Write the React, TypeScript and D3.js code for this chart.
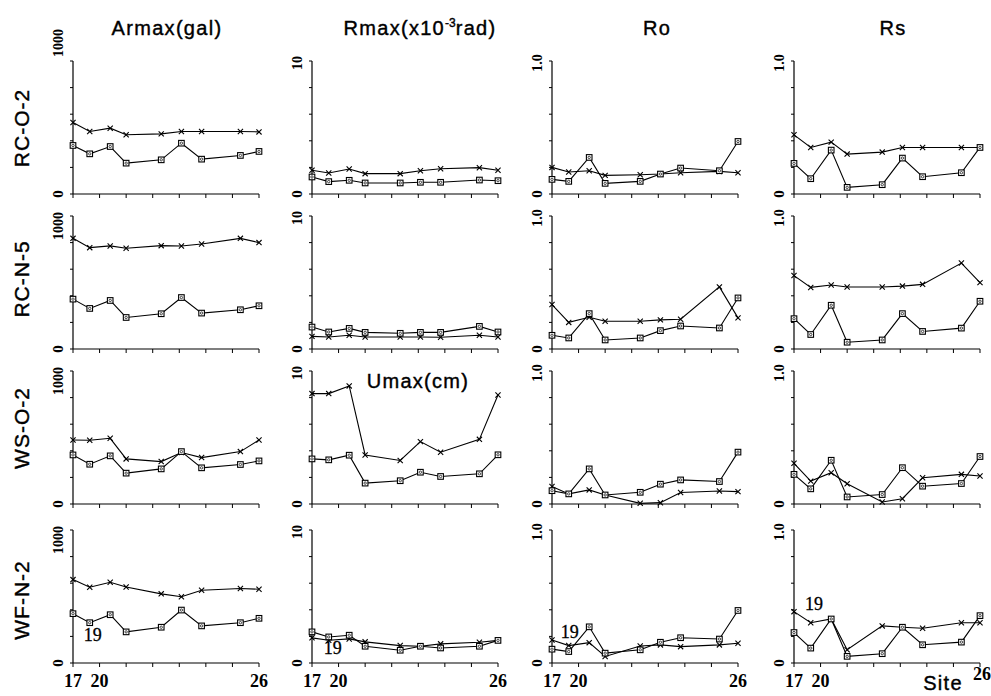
import React from 'react';
import * as d3 from 'd3';

const W = 991;
const H = 696;

// site positions along the x axis (in tick units, 17 at 0 and 26 at 7)
const sitePos = [0, 0.63, 1.4, 2, 3.32, 4.08, 4.84, 6.3, 7];
const siteTicks = [0, 1, 2, 3, 4, 5, 6, 7];
const siteLabelPos = [0, 1, 7];
const siteLabelText = ['17', '20', '26'];

const rowNames = ['RC-O-2', 'RC-N-5', 'WS-O-2', 'WF-N-2'];
const colNames = ['Armax(gal)', 'Rmax', 'Ro', 'Rs'];
const yMax = [1000, 10, 1, 1];
const yTopLabel = ['1000', '10', '1.0', '1.0'];

// RC-O-2
const armaxRCO2x = [537, 470, 495, 445, 452, 470, 470, 470, 467];
const armaxRCO2s = [365, 302, 357, 232, 257, 382, 262, 290, 320];
const rmaxRCO2x = [1.78, 1.58, 1.88, 1.53, 1.53, 1.75, 1.9, 1.98, 1.78];
const rmaxRCO2s = [1.28, 0.93, 1.03, 0.83, 0.83, 0.88, 0.88, 1.05, 1.0];
const roRCO2x = [0.2, 0.165, 0.175, 0.14, 0.145, 0.15, 0.16, 0.17, 0.16];
const roRCO2s = [0.11, 0.095, 0.275, 0.08, 0.095, 0.15, 0.195, 0.175, 0.395];
const rsRCO2x = [0.445, 0.35, 0.39, 0.3, 0.315, 0.35, 0.35, 0.35, 0.35];
const rsRCO2s = [0.23, 0.115, 0.33, 0.05, 0.07, 0.27, 0.13, 0.16, 0.35];

// RC-N-5
const armaxRCN5x = [832, 762, 775, 757, 777, 775, 790, 832, 800];
const armaxRCN5s = [375, 305, 365, 237, 265, 387, 270, 295, 325];
const rmaxRCN5x = [0.95, 0.9, 1.03, 0.9, 0.9, 0.9, 0.88, 1.03, 0.9];
const rmaxRCN5s = [1.65, 1.28, 1.55, 1.25, 1.18, 1.25, 1.25, 1.7, 1.28];
const roRCN5x = [0.334, 0.2, 0.239, 0.209, 0.209, 0.219, 0.224, 0.467, 0.234];
const roRCN5s = [0.103, 0.083, 0.266, 0.068, 0.083, 0.138, 0.173, 0.158, 0.384];
const rsRCN5x = [0.552, 0.463, 0.481, 0.466, 0.466, 0.473, 0.486, 0.646, 0.499];
const rsRCN5s = [0.228, 0.109, 0.329, 0.051, 0.068, 0.266, 0.132, 0.157, 0.359];

// WS-O-2
const armaxWSO2x = [481, 479, 494, 339, 319, 387, 349, 394, 481];
const armaxWSO2s = [369, 299, 362, 232, 264, 394, 272, 297, 324];
const umaxWSO2x = [8.3, 8.3, 8.88, 3.69, 3.27, 4.69, 3.89, 4.86, 8.2];
const umaxWSO2s = [3.39, 3.32, 3.67, 1.57, 1.75, 2.39, 2.07, 2.27, 3.7];
const roWSO2x = [0.131, 0.076, 0.106, 0.068, 0.005, 0.01, 0.086, 0.098, 0.093];
const roWSO2s = [0.1, 0.076, 0.264, 0.068, 0.088, 0.149, 0.181, 0.169, 0.39];
const rsWSO2x = [0.306, 0.172, 0.235, 0.152, 0.015, 0.04, 0.197, 0.223, 0.21];
const rsWSO2s = [0.223, 0.114, 0.329, 0.053, 0.071, 0.273, 0.134, 0.154, 0.357];

// WF-N-2
const armaxWFN2x = [627, 570, 607, 572, 520, 498, 547, 560, 555];
const armaxWFN2s = [371, 303, 363, 234, 269, 398, 279, 303, 336];
const rmaxWFN2x = [1.89, 1.71, 1.81, 1.59, 1.31, 1.26, 1.44, 1.56, 1.7];
const rmaxWFN2s = [2.34, 1.96, 2.09, 1.26, 0.96, 1.26, 1.13, 1.26, 1.7];
const roWFN2x = [0.173, 0.131, 0.153, 0.049, 0.128, 0.136, 0.123, 0.136, 0.148];
const roWFN2s = [0.104, 0.086, 0.272, 0.074, 0.099, 0.156, 0.19, 0.18, 0.395];
const rsWFN2x = [0.386, 0.303, 0.331, 0.1, 0.279, 0.269, 0.261, 0.303, 0.303];
const rsWFN2s = [0.229, 0.112, 0.331, 0.05, 0.07, 0.269, 0.137, 0.157, 0.356];

const crossData = [
  [armaxRCO2x, rmaxRCO2x, roRCO2x, rsRCO2x],
  [armaxRCN5x, rmaxRCN5x, roRCN5x, rsRCN5x],
  [armaxWSO2x, umaxWSO2x, roWSO2x, rsWSO2x],
  [armaxWFN2x, rmaxWFN2x, roWFN2x, rsWFN2x],
];
const squareData = [
  [armaxRCO2s, rmaxRCO2s, roRCO2s, rsRCO2s],
  [armaxRCN5s, rmaxRCN5s, roRCN5s, rsRCN5s],
  [armaxWSO2s, umaxWSO2s, roWSO2s, rsWSO2s],
  [armaxWFN2s, rmaxWFN2s, roWFN2s, rsWFN2s],
];

// "19" notes in the bottom row: [column, site index, dx, dy]
const notes19 = [[0, 1, 3, 18], [1, 1, 4, 17], [2, 1, 1, -14], [3, 0, 20, -23]];

const colX = [73, 312, 552, 794];
const rowY = [61, 216, 371, 530];
const pw = 186;
const ph = 133;

const sans = '"Liberation Sans", Arial, sans-serif';
const serif = '"Liberation Serif", "Times New Roman", serif';
const headStyle = { fontFamily: sans, fontSize: 20, letterSpacing: 1.3 };

function Panel({ r, c }: { r: number; c: number }) {
  const x0 = colX[c];
  const y0 = rowY[r];
  const x = d3.scaleLinear().domain([0, 7]).range([x0, x0 + pw]);
  const y = d3.scaleLinear().domain([0, yMax[c]]).range([y0 + ph, y0]);
  const line = d3.line<number>().x((_, i) => x(sitePos[i])).y(d => y(d));
  const cross = crossData[r][c];
  const sq = squareData[r][c];
  const yTicks = d3.range(6).map(i => (yMax[c] * i) / 5);
  const labelOffset = c === 0 ? (r === 0 ? -18 : 10) : 2;
  return (
    <g>
      <line x1={x0} x2={x0} y1={y0} y2={y0 + ph} stroke="#000" strokeWidth={1.2} />
      <line x1={x0} x2={x0 + pw} y1={y0 + ph} y2={y0 + ph} stroke="#000" strokeWidth={1.2} />
      {yTicks.map((t, i) => (
        <line key={i} x1={x0 - 3} x2={x0} y1={y(t)} y2={y(t)} stroke="#000" strokeWidth={1} />
      ))}
      {siteTicks.map(t => (
        <line key={t} x1={x(t)} x2={x(t)} y1={y0 + ph} y2={y0 + ph + 4} stroke="#000" strokeWidth={1} />
      ))}
      <text transform={`translate(${x0 - 10},${y0 + labelOffset}) rotate(-90)`} textAnchor="middle"
        fontFamily={serif} fontWeight="bold" fontSize={14}>{yTopLabel[c]}</text>
      <text transform={`translate(${x0 - 10},${y0 + ph}) rotate(-90)`} textAnchor="middle"
        fontFamily={serif} fontWeight="bold" fontSize={15}>0</text>
      <path d={line(cross) || ''} fill="none" stroke="#000" strokeWidth={1.1} />
      <path d={line(sq) || ''} fill="none" stroke="#000" strokeWidth={1.1} />
      {cross.map((v, i) => (
        <path key={i} transform={`translate(${x(sitePos[i])},${y(v)})`}
          d="M-2.6,-2.6L2.6,2.6M-2.6,2.6L2.6,-2.6" stroke="#000" strokeWidth={1.1} fill="none" />
      ))}
      {sq.map((v, i) => (
        <g key={i} transform={`translate(${x(sitePos[i])},${y(v)})`}>
          <rect x={-2.8} y={-2.8} width={5.6} height={5.6} fill="#fff" stroke="#000" strokeWidth={1.1} />
          <circle r={1.2} fill="none" stroke="#000" strokeWidth={0.7} />
        </g>
      ))}
      {r === 3 && siteLabelPos.map((p, i) => (
        <text key={i} x={x(p) + (c === 3 && i === 2 ? 2 : 0)} y={y0 + ph + (c === 3 && i === 2 ? 17 : 24)}
          textAnchor="middle" fontFamily={serif} fontWeight="bold" fontSize={18}>{siteLabelText[i]}</text>
      ))}
      {r === 3 && notes19.filter(n => n[0] === c).map((n, i) => (
        <text key={i} x={x(sitePos[n[1]]) + n[2]} y={y(squareData[r][c][n[1]]) + n[3]}
          textAnchor="middle" fontFamily={serif} fontSize={18} stroke="#000" strokeWidth={0.3}>19</text>
      ))}
    </g>
  );
}

export default function App() {
  return (
    <svg width={W} height={H} style={{ position: 'absolute', left: 0, top: 0, background: '#fff' }}>
      <rect width={W} height={H} fill="#fff" />
      {[167, 420, 657, 893].map((cx, c) => (
        <text key={c} x={cx} y={35} textAnchor="middle" {...headStyle} stroke="#000" strokeWidth={0.4}>
          {c === 1 ? (
            <>
              {'Rmax(x10'}
              <tspan dy={-8} fontSize={12} letterSpacing={0}>-3</tspan>
              <tspan dy={8}>rad)</tspan>
            </>
          ) : colNames[c]}
        </text>
      ))}
      {rowNames.map((name, r) => (
        <text key={r} transform={`translate(29,${[128, 279, 428, 600][r]}) rotate(-90)`} textAnchor="middle"
          fontFamily={sans} fontSize={21} letterSpacing={1} stroke="#000" strokeWidth={0.4}>{name}</text>
      ))}
      {rowNames.map((_, r) => colNames.map((__, c) => <Panel key={`${r}-${c}`} r={r} c={c} />))}
      <text x={418} y={388} textAnchor="middle" {...headStyle} stroke="#000" strokeWidth={0.4}>Umax(cm)</text>
      <text x={943} y={690} textAnchor="middle" {...headStyle} stroke="#000" strokeWidth={0.4}>Site</text>
    </svg>
  );
}
